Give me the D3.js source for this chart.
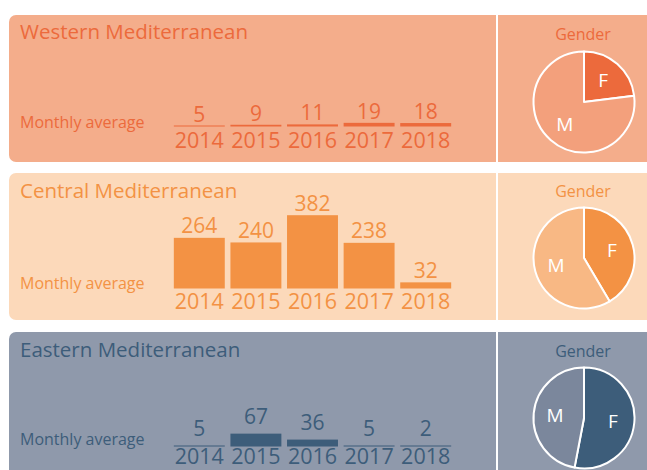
<!DOCTYPE html>
<html>
<head>
<meta charset="utf-8">
<script src="https://cdn.jsdelivr.net/npm/d3@7"></script>
<style>
  body { margin: 0; background: #fff; }
  text { font-family: "Open Sans", sans-serif; }
</style>
</head>
<body>
<div id="chart-area"></div>
<script>
// data
var years = ["2014", "2015", "2016", "2017", "2018"];
var regions = ["Western Mediterranean", "Central Mediterranean", "Eastern Mediterranean"];
var westernAvg = [5, 9, 11, 19, 18];
var centralAvg = [264, 240, 382, 238, 32];
var easternAvg = [5, 67, 36, 5, 2];
var genderLabels = ["F", "M"];
var westernGender = [23, 77];
var centralGender = [41.5, 58.5];
var easternGender = [53, 47];

var width = 647, height = 470;

// panel layout + colours
var panels = [
  {name: regions[0], avg: westernAvg, gender: westernGender, top: 15, bottom: 162, base: 126.5,
   titleY: 39, avgY: 128, genderY: 40, pieY: 102, yearGap: 21.5, labelGap: 4,
   bg: "#f4ad8b", ink: "#ec6a3c", male: "#f3a07c"},
  {name: regions[1], avg: centralAvg, gender: centralGender, top: 173, bottom: 320, base: 288.5,
   titleY: 198, avgY: 289, genderY: 197, pieY: 258, yearGap: 20, labelGap: 4.5,
   bg: "#fcd9ba", ink: "#f39244", male: "#f8b884"},
  {name: regions[2], avg: easternAvg, gender: easternGender, top: 332, bottom: 490, base: 446.5,
   titleY: 357, avgY: 445, genderY: 357, pieY: 418, yearGap: 17.5, labelGap: 9.5,
   bg: "#8f99ab", ink: "#3d5d7a", male: "#7b879c"}
];

var svg = d3.select("#chart-area")
  .append("svg")
    .attr("width", width)
    .attr("height", height);

// shared scales
var x = d3.scaleBand().domain(years).range([171, 454]).paddingInner(0.1).paddingOuter(0.05);
var h = d3.scaleLinear().domain([0, 382]).range([0, 73.3]);

var pie = d3.pie().sort(null).value(function(d) { return d; });
var radius = 50.5;
var arc = d3.arc().innerRadius(0).outerRadius(radius);
var labelArc = d3.arc().innerRadius(29).outerRadius(29);
var divX = 497;

panels.forEach(function(p) {
  var g = svg.append("g");

  g.append("rect")
    .attr("x", 9)
    .attr("y", p.top)
    .attr("width", width + 20)
    .attr("height", p.bottom - p.top)
    .attr("rx", 7)
    .attr("fill", p.bg);

  // divider
  g.append("rect")
    .attr("x", divX - 1)
    .attr("y", p.top)
    .attr("width", 2)
    .attr("height", p.bottom - p.top)
    .attr("fill", "#fff");

  g.append("text")
    .attr("x", 20)
    .attr("y", p.titleY)
    .attr("font-size", "20.5px")
    .attr("fill", p.ink)
    .text(p.name);

  g.append("text")
    .attr("x", 20)
    .attr("y", p.avgY)
    .attr("font-size", "16px")
    .attr("fill", p.ink)
    .text("Monthly average");

  // bars
  g.selectAll("rect.bar").data(p.avg).enter().append("rect")
    .attr("class", "bar")
    .attr("x", function(d, i) { return x(years[i]); })
    .attr("width", x.bandwidth())
    .attr("y", function(d) { return p.base - Math.max(1, h(d)); })
    .attr("height", function(d) { return Math.max(1, h(d)); })
    .attr("fill", p.ink);

  g.selectAll("text.val").data(p.avg).enter().append("text")
    .attr("class", "val")
    .attr("x", function(d, i) { return x(years[i]) + x.bandwidth() / 2; })
    .attr("y", function(d) { return p.base - Math.max(1, h(d)) - p.labelGap; })
    .attr("text-anchor", "middle")
    .attr("font-size", "21px")
    .attr("fill", p.ink)
    .text(function(d) { return d; });

  g.selectAll("text.year").data(years).enter().append("text")
    .attr("class", "year")
    .attr("x", function(d) { return x(d) + x.bandwidth() / 2; })
    .attr("y", p.base + p.yearGap)
    .attr("text-anchor", "middle")
    .attr("font-size", "21.5px")
    .attr("fill", p.ink)
    .text(function(d) { return d; });

  // gender pie
  g.append("text")
    .attr("x", 583)
    .attr("y", p.genderY)
    .attr("text-anchor", "middle")
    .attr("font-size", "16px")
    .attr("fill", p.ink)
    .text("Gender");

  var pg = g.append("g")
    .attr("transform", "translate(584, " + p.pieY + ")");

  var slices = pie(p.gender);
  pg.selectAll("path").data(slices).enter().append("path")
    .attr("d", arc)
    .attr("fill", function(d, i) { return i === 0 ? p.ink : p.male; })
    .attr("stroke", "#fff")
    .attr("stroke-width", 2)
    .attr("stroke-linejoin", "round");

  pg.selectAll("text").data(slices).enter().append("text")
    .attr("transform", function(d) { return "translate(" + labelArc.centroid(d) + ")"; })
    .attr("text-anchor", "middle")
    .attr("dy", "0.36em")
    .attr("font-size", "19px")
    .attr("fill", "#fff")
    .text(function(d, i) { return genderLabels[i]; });
});
</script>
</body>
</html>
